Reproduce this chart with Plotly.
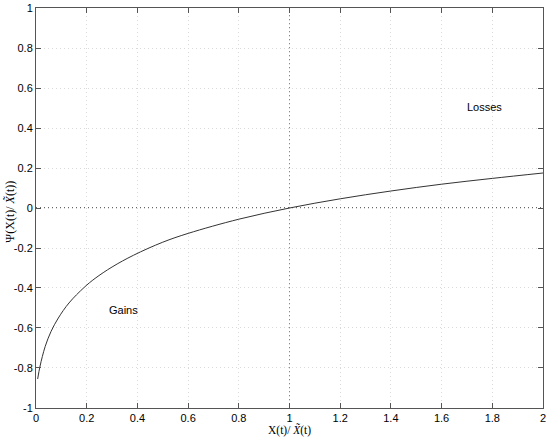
import plotly.graph_objects as go

# curve
ratio = [0.0065, 0.016, 0.036, 0.059, 0.088, 0.13, 0.19, 0.233, 0.3, 0.385, 0.5,
         0.6, 0.8, 1.0, 1.2, 1.4, 1.6, 1.8, 2.0]
psi = [-0.855, -0.79, -0.693, -0.618, -0.55, -0.475, -0.397, -0.352, -0.295, -0.236, -0.171,
       -0.127, -0.056, 0.0, 0.046, 0.085, 0.119, 0.148, 0.175]

x_ticks = [0, 0.2, 0.4, 0.6, 0.8, 1, 1.2, 1.4, 1.6, 1.8, 2]
y_ticks = [-1, -0.8, -0.6, -0.4, -0.2, 0, 0.2, 0.4, 0.6, 0.8, 1]

labels = ["Losses", "Gains"]
label_x = [1.77, 0.347]
label_y = [0.505, -0.51]

SANS = "Liberation Sans, Arial, sans-serif"
SERIF = "Liberation Serif, Times New Roman, serif"

fig = go.Figure()
fig.add_trace(go.Scatter(x=ratio, y=psi, mode="lines", line=dict(color="#333333", width=1, shape="spline"),
                         showlegend=False, hoverinfo="skip"))

fig.add_hline(y=0, line=dict(color="#333333", width=1.3, dash="1px,3px"), layer="below")
fig.add_vline(x=1, line=dict(color="#8a8a8a", width=1, dash="1px,3px"), layer="below")

for t, x, y in zip(labels, label_x, label_y):
    fig.add_annotation(x=x, y=y, text=t, showarrow=False, font=dict(family=SANS, size=11, color="black"))

axis_common = dict(
    showline=True, linecolor="#555555", linewidth=1, mirror="ticks",
    ticks="inside", ticklen=5, tickcolor="#555555",
    showgrid=True, gridcolor="#dadada", griddash="1px,3px", gridwidth=1,
    zeroline=False, automargin=False,
    tickfont=dict(family=SANS, size=11, color="black"),
)

fig.update_xaxes(range=[-0.0001, 2.0001], tickvals=x_ticks, ticktext=[f"{v:g}" for v in x_ticks], **axis_common)
fig.update_yaxes(range=[-1.0001, 1.0001], tickvals=y_ticks, ticktext=[f"{v:g}" for v in y_ticks], **axis_common)

fig.add_annotation(xref="paper", yref="paper", x=0.5, y=-0.056, yanchor="middle", showarrow=False,
                   text="X(t)/ <i>X̃</i>(t)", font=dict(family=SERIF, size=11.5, color="black"))
fig.add_annotation(xref="paper", yref="paper", x=-0.052, y=0.49, xanchor="center", yanchor="middle",
                   textangle=-90, showarrow=False,
                   text="Ψ(X(t)/ <i>X̃</i>(t))", font=dict(family=SERIF, size=12, color="black"))

fig.update_layout(
    width=550, height=437,
    margin=dict(l=36, r=7, t=8, b=29),
    plot_bgcolor="white", paper_bgcolor="white",
)

# page body margin would push the fixed-size figure off the window
fig.write_html("out.html", config={"displayModeBar": False},
               post_script="document.body.style.margin='0';")
